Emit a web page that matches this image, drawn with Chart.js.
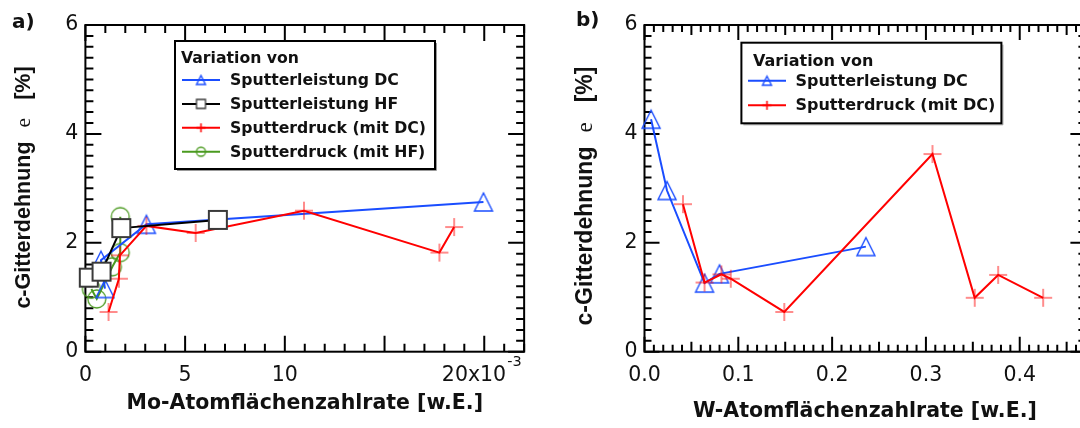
<!DOCTYPE html>
<html>
<head>
<meta charset="utf-8">
<script src="https://cdn.jsdelivr.net/npm/chart.js@4.4.1/dist/chart.umd.min.js"></script>
<style>
  html, body { margin: 0; padding: 0; background: #fff; overflow: hidden; }
  #wrap { position: relative; width: 1080px; height: 428px; overflow: hidden; }
  #moChart { position: absolute; left: 0; top: 0; }
  #wChart { position: absolute; left: 540px; top: 0; }
</style>
</head>
<body>
<div id="wrap">
  <canvas id="moChart" width="540" height="428"></canvas>
  <canvas id="wChart" width="560" height="428"></canvas>
</div>
<script>
// a) Mo-Atomflächenzahlrate (x in 10^-3 w.E.) vs c-Gitterdehnung (%)
const moLeistungDcX = [0.98, 0.78, 3.06, 19.96];
const moLeistungDcY = [1.16, 1.68, 2.34, 2.75];
const moLeistungHfX = [0.17, 0.81, 1.80, 6.64];
const moLeistungHfY = [1.36, 1.47, 2.27, 2.42];
const moDruckDcX = [1.16, 1.68, 1.73, 3.06, 5.53, 10.96, 17.75, 18.49];
const moDruckDcY = [0.73, 1.34, 1.77, 2.31, 2.18, 2.59, 1.82, 2.29];
const moDruckHfX = [0.30, 0.57, 1.35, 1.75, 1.75];
const moDruckHfY = [1.15, 0.97, 1.56, 1.82, 2.48];

// b) W-Atomflächenzahlrate (w.E.) vs c-Gitterdehnung (%)
const wLeistungDcX = [0.007, 0.024, 0.064, 0.080, 0.236];
const wLeistungDcY = [4.27, 2.96, 1.26, 1.43, 1.93];
const wDruckDcX = [0.041, 0.064, 0.082, 0.092, 0.149, 0.307, 0.352, 0.377, 0.425];
const wDruckDcY = [2.71, 1.27, 1.42, 1.34, 0.73, 3.63, 0.99, 1.41, 0.99];

const moTicksX = [0, 5, 10, 15, 20];
const wTicksX = [0, 0.1, 0.2, 0.3, 0.4];
const yTicks = [0, 2, 4, 6];

const BLUE = '#1a4dff';
const RED = '#ff0000';
const GREEN = '#4a9a1f';
const BLACK = '#000000';

const SANS = '"DejaVu Sans", sans-serif';

function points(xs, ys) {
  return xs.map((x, i) => ({ x: x, y: ys[i] }));
}

// marker sprites, used by Chart.js as pointStyle images and by the legend
function marker(kind, size, color) {
  const c = document.createElement('canvas');
  const n = Math.ceil(size) + 4;
  c.width = n; c.height = n;
  const g = c.getContext('2d');
  const m = n / 2, h = size / 2;
  g.beginPath();
  if (kind === 'triangle') {
    g.moveTo(m, m - h);
    g.lineTo(m + h, m + h);
    g.lineTo(m - h, m + h);
    g.closePath();
    g.strokeStyle = color; g.lineWidth = 1.4;
    g.stroke();
  } else if (kind === 'square') {
    g.rect(m - h, m - h, size, size);
    g.fillStyle = '#fff'; g.fill();
    g.strokeStyle = '#3a3a3a'; g.lineWidth = size > 12 ? 2 : 1.3;
    g.stroke();
  } else if (kind === 'circle') {
    g.arc(m, m, h, 0, Math.PI * 2);
    g.strokeStyle = color; g.lineWidth = 1.3;
    g.stroke();
  } else {
    g.moveTo(m - h, m); g.lineTo(m + h, m);
    g.moveTo(m, m - h); g.lineTo(m, m + h);
    g.strokeStyle = color; g.lineWidth = 1.5;
    g.stroke();
  }
  return c;
}

function series(label, xs, ys, color, kind, order) {
  return {
    label: label,
    data: points(xs, ys),
    showLine: true,
    clip: false,
    borderColor: color,
    borderWidth: 2,
    pointStyle: marker(kind, 18, kind === 'cross' ? 'rgba(255,0,0,0.6)' : color),
    pointRadius: 9,
    legendMarker: marker(kind, 9, color),
    order: order
  };
}

// frame with inward ticks on all four sides
const frameTicks = {
  id: 'frameTicks',
  beforeDatasetsDraw(chart, args, o) {
    const { ctx, chartArea: a, scales: { x, y } } = chart;
    ctx.save();
    ctx.strokeStyle = '#000';
    ctx.lineWidth = 2;
    ctx.beginPath();
    for (let i = 0; i * o.xStep <= x.max + 1e-9; i++) {
      const px = x.getPixelForValue(i * o.xStep);
      let len = o.minor;
      if (i % o.xMajor === 0) len = o.major;
      else if (o.xMid && i % o.xMid === 0) len = o.mid;
      ctx.moveTo(px, a.bottom); ctx.lineTo(px, a.bottom - len);
      ctx.moveTo(px, a.top); ctx.lineTo(px, a.top + len);
    }
    for (let i = 0; i * o.yStep <= y.max + 1e-9; i++) {
      const py = y.getPixelForValue(i * o.yStep);
      const len = i % o.yMajor === 0 ? o.major : o.minor;
      ctx.moveTo(a.left, py); ctx.lineTo(a.left + len, py);
      ctx.moveTo(a.right, py); ctx.lineTo(a.right - len, py);
    }
    ctx.stroke();
    ctx.strokeRect(a.left, a.top, a.right - a.left, a.bottom - a.top);
    ctx.restore();
  }
};

// boxed legend with a heading, placed inside the plot area
const boxLegend = {
  id: 'boxLegend',
  afterDraw(chart, args, o) {
    const ctx = chart.ctx;
    const [bx, by, bw, bh] = o.box;
    ctx.save();
    ctx.fillStyle = '#fff';
    ctx.fillRect(bx, by, bw, bh);
    ctx.strokeStyle = '#999';
    ctx.lineWidth = 1;
    ctx.beginPath();
    ctx.moveTo(bx + 2, by + bh + 1.5); ctx.lineTo(bx + bw + 1.5, by + bh + 1.5); ctx.lineTo(bx + bw + 1.5, by + 2);
    ctx.stroke();
    ctx.strokeStyle = '#000';
    ctx.lineWidth = 2;
    ctx.strokeRect(bx, by, bw, bh);
    ctx.fillStyle = '#111';
    ctx.font = 'bold ' + o.size + 'px ' + SANS;
    ctx.textBaseline = 'alphabetic';
    ctx.fillText('Variation von', o.titleX, o.titleY);
    ctx.textBaseline = 'middle';
    chart.data.datasets.forEach((ds, i) => {
      const ry = o.rowY + i * o.rowGap;
      ctx.strokeStyle = ds.borderColor;
      ctx.lineWidth = 2;
      ctx.beginPath();
      ctx.moveTo(o.lineX[0], ry); ctx.lineTo(o.lineX[1], ry);
      ctx.stroke();
      const mk = ds.legendMarker;
      ctx.drawImage(mk, (o.lineX[0] + o.lineX[1]) / 2 - mk.width / 2, ry - mk.height / 2);
      ctx.fillStyle = '#111';
      ctx.fillText(ds.label, o.textX, ry + 1);
    });
    ctx.restore();
  }
};

// rotated y title with the strain symbol set in a lighter serif face,
// panel letter and the x10^-3 exponent
const extraText = {
  id: 'extraText',
  afterDraw(chart, args, o) {
    const ctx = chart.ctx;
    ctx.save();
    ctx.fillStyle = '#111';
    ctx.textBaseline = 'middle';
    const boldF = 'bold ' + o.yTitleSize + 'px "Liberation Sans", Arial, sans-serif';
    const symF = o.yTitleSize + 'px "Liberation Serif", serif';
    const parts = [
      { t: 'c-Gitterdehnung', f: boldF, gap: o.symGap[0] },
      { t: 'e', f: symF, gap: o.symGap[1] },
      { t: '[%]', f: boldF, gap: 0 }
    ];
    let total = 0;
    parts.forEach(p => { ctx.font = p.f; p.w = ctx.measureText(p.t).width; total += p.w + p.gap; });
    ctx.translate(o.yTitleX, o.yTitleY);
    ctx.rotate(-Math.PI / 2);
    let cx = -total / 2;
    parts.forEach(p => { ctx.font = p.f; ctx.fillText(p.t, cx, 0); cx += p.w + p.gap; });
    ctx.setTransform(1, 0, 0, 1, 0, 0);

    ctx.font = 'bold 20px ' + SANS;
    ctx.textBaseline = 'alphabetic';
    ctx.fillText(o.panel, o.panelX, o.panelY);

    if (o.exponent) {
      const x = chart.scales.x;
      ctx.font = o.tickSize + 'px ' + SANS;
      const full = ctx.measureText(o.expBase).width;
      const base = ctx.measureText('20x10').width;
      const start = x.getPixelForValue(20) - full / 2;
      ctx.font = '14.5px ' + SANS;
      ctx.textBaseline = 'middle';
      ctx.fillText(o.exponent, start + base + 1, o.expY);
    }
    ctx.restore();
  }
};

function baseOptions(cfg) {
  return {
    responsive: false,
    animation: false,
    events: [],
    layout: { padding: { top: 25, right: cfg.padRight, left: 0, bottom: 0 } },
    plugins: {
      legend: { display: false },
      tooltip: { enabled: false },
      frameTicks: cfg.frame,
      boxLegend: cfg.legend,
      extraText: cfg.text
    },
    scales: {
      x: {
        type: 'linear',
        min: 0,
        max: cfg.xMax,
        grid: { display: false, drawTicks: false },
        border: { display: false },
        afterBuildTicks: s => { s.ticks = cfg.xTicks.map(v => ({ value: v })); },
        afterFit: s => { s.height = 76.3; },
        ticks: {
          autoSkip: false,
          maxRotation: 0,
          padding: 12,
          color: '#111',
          font: { family: SANS, size: cfg.tickSize },
          callback: cfg.xLabel
        },
        title: {
          display: true,
          text: cfg.xTitle,
          color: '#111',
          font: { family: SANS, size: 20.5, weight: 'bold' },
          padding: { top: 0, bottom: cfg.xTitlePad }
        }
      },
      y: {
        type: 'linear',
        min: 0,
        max: 6,
        grid: { display: false, drawTicks: false },
        border: { display: false },
        afterBuildTicks: s => { s.ticks = yTicks.map(v => ({ value: v })); },
        afterFit: s => { s.width = cfg.yWidth; },
        ticks: {
          padding: 7,
          color: '#111',
          font: { family: SANS, size: cfg.tickSize },
          callback: v => String(v)
        }
      }
    }
  };
}

const TICK_SIZE = 20.5;
const PLUGINS = [frameTicks, boxLegend, extraText];

new Chart(document.getElementById('moChart'), {
  type: 'scatter',
  plugins: PLUGINS,
  data: {
    datasets: [
      series('Sputterleistung DC', moLeistungDcX, moLeistungDcY, BLUE, 'triangle', 2),
      series('Sputterleistung HF', moLeistungHfX, moLeistungHfY, BLACK, 'square', 0),
      series('Sputterdruck (mit DC)', moDruckDcX, moDruckDcY, RED, 'cross', 1),
      series('Sputterdruck (mit HF)', moDruckHfX, moDruckHfY, GREEN, 'circle', 3)
    ]
  },
  options: baseOptions({
    padRight: 14.8,
    yWidth: 85.4,
    xMax: 22,
    xTicks: moTicksX,
    tickSize: TICK_SIZE,
    xLabel: v => (v === 15 ? '' : v === 20 ? '20x10\u2003' : String(v)),
    xTitle: 'Mo-Atomflächenzahlrate [w.E.]',
    xTitlePad: 11.7,
    frame: { xStep: 1, xMajor: 5, xMid: 0, yStep: 0.2, yMajor: 10, minor: 8, mid: 11, major: 16 },
    legend: { box: [175, 41, 260, 128], size: 15.7, titleX: 181, titleY: 63, rowY: 80, rowGap: 23.9, lineX: [182, 220], textX: 230 },
    text: { yTitleX: 24, yTitleY: 187.5, yTitleSize: 21.5, symGap: [14, 18], panel: 'a)', panelX: 12, panelY: 28,
            exponent: '-3', expBase: '20x10\u2003', expY: 362, tickSize: TICK_SIZE }
  })
});

new Chart(document.getElementById('wChart'), {
  type: 'scatter',
  plugins: PLUGINS,
  data: {
    datasets: [
      series('Sputterleistung DC', wLeistungDcX, wLeistungDcY, BLUE, 'triangle', 1),
      series('Sputterdruck (mit DC)', wDruckDcX, wDruckDcY, RED, 'cross', 0)
    ]
  },
  options: baseOptions({
    padRight: 14.6,
    yWidth: 104.5,
    xMax: 0.47,
    xTicks: wTicksX,
    tickSize: TICK_SIZE,
    xLabel: v => v.toFixed(1),
    xTitle: 'W-Atomflächenzahlrate [w.E.]',
    xTitlePad: 3.7,
    frame: { xStep: 0.01, xMajor: 10, xMid: 5, yStep: 0.2, yMajor: 10, minor: 7, mid: 10, major: 15 },
    legend: { box: [201.4, 42.7, 260, 80.6], size: 16, titleX: 213, titleY: 66, rowY: 80.7, rowGap: 24.6, lineX: [208, 246], textX: 255.5 },
    text: { yTitleX: 46, yTitleY: 196, yTitleSize: 23, symGap: [14, 20], panel: 'b)', panelX: 36, panelY: 26 }
  })
});
</script>
</body>
</html>
